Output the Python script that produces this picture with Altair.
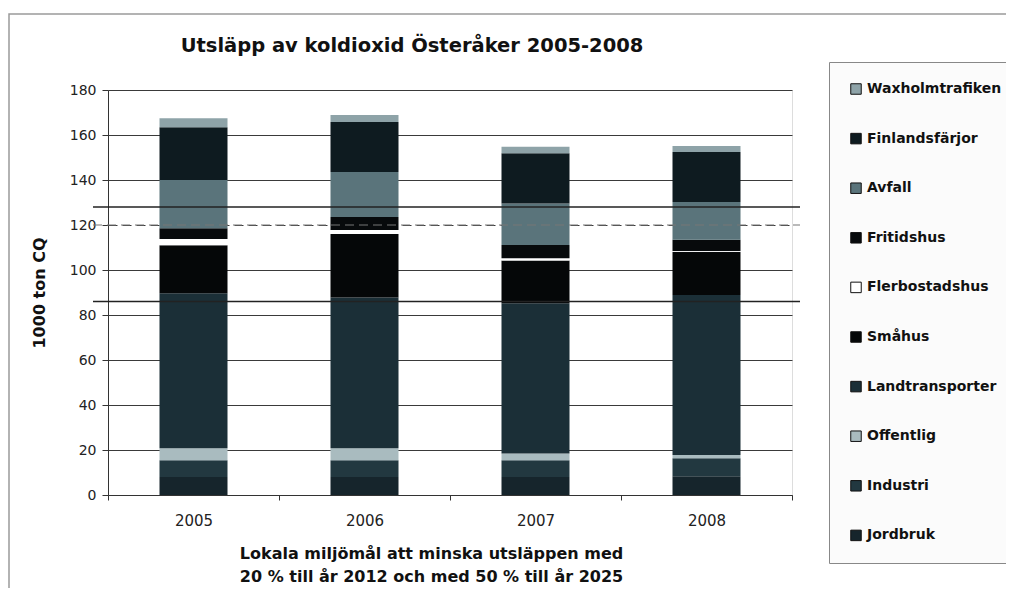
import altair as alt
import pandas as pd

years = ["2005", "2006", "2007", "2008"]

# legend order (top of legend = top of stack)
categories = ["Waxholmtrafiken", "Finlandsfärjor", "Avfall", "Fritidshus",
              "Flerbostadshus", "Småhus", "Landtransporter", "Offentlig",
              "Industri", "Jordbruk"]
colors = ["#8ea3a8", "#0e1b20", "#5a747b", "#070a0c",
          "#ffffff", "#050708", "#1b2f37", "#a9bbbf",
          "#223840", "#16252c"]

# values in 1000 ton CO2, per year 2005..2008
jordbruk        = [8.0, 8.0, 8.0, 8.3]
industri        = [7.5, 7.5, 7.5, 8.0]
offentlig       = [5.3, 5.3, 3.0, 1.5]
landtransporter = [68.9, 67.0, 66.7, 71.1]
smahus          = [21.3, 28.2, 19.0, 19.2]
flerbostadshus  = [2.8, 1.8, 1.0, 0.3]
fritidshus      = [4.8, 5.8, 5.9, 5.0]
avfall          = [21.4, 20.0, 18.5, 16.8]
finlandsfarjor  = [23.5, 22.2, 22.3, 22.2]
waxholmtrafiken = [4.0, 3.1, 2.9, 2.7]

series = {
    "Jordbruk": jordbruk,
    "Industri": industri,
    "Offentlig": offentlig,
    "Landtransporter": landtransporter,
    "Småhus": smahus,
    "Flerbostadshus": flerbostadshus,
    "Fritidshus": fritidshus,
    "Avfall": avfall,
    "Finlandsfärjor": finlandsfarjor,
    "Waxholmtrafiken": waxholmtrafiken,
}

target_solid = [128, 86]
target_dashed = [120]
y_ticks = [0, 20, 40, 60, 80, 100, 120, 140, 160, 180]

rows = []
for i, (cat, vals) in enumerate(series.items()):
    for y, v in zip(years, vals):
        rows.append({"year": y, "category": cat, "value": v, "idx": i})
df = pd.DataFrame(rows)

FONT = "DejaVu Sans"
W, H = 684, 405

x_enc = alt.X("year:N", scale=alt.Scale(paddingInner=0, paddingOuter=0),
              axis=alt.Axis(title=["Lokala miljömål att minska utsläppen med",
                                   "20 % till år 2012 och med 50 % till år 2025"],
                            titleFontSize=16, titleFontWeight="bold", titleFont=FONT,
                            titleColor="#111", titlePadding=17, titleLineHeight=23,
                            titleX=323, labelAngle=0, labelFontSize=15, labelFont=FONT,
                            labelColor="#222", labelPadding=13, tickBand="extent",
                            tickSize=5, tickColor="#333", domainColor="#333",
                            grid=False))

bars = alt.Chart(df).mark_bar(size=68).encode(
    x=x_enc,
    y=alt.Y("value:Q", stack="zero",
            scale=alt.Scale(domain=[0, 180], nice=False),
            axis=alt.Axis(values=y_ticks, title="1000 ton CQ", titleFontSize=16,
                          titleFontWeight="bold", titleFont=FONT, titleColor="#111",
                          titlePadding=22, labelFontSize=14, labelFont=FONT,
                          labelColor="#222", labelPadding=6, tickSize=6,
                          tickColor="#333", domainColor="#333",
                          grid=True, gridColor="#3a3a3a", gridWidth=1,
                          gridDash=alt.condition("datum.value == 120",
                                                 alt.value([9, 5]), alt.value([])))),
    color=alt.Color("category:N",
                    scale=alt.Scale(domain=categories, range=colors),
                    legend=alt.Legend(title=None, orient="none", legendX=721, legendY=-28,
                                      direction="vertical", symbolType="square",
                                      symbolSize=110, symbolStrokeColor="#111",
                                      symbolStrokeWidth=1, labelFontSize=14,
                                      labelFont=FONT, labelFontWeight="bold",
                                      labelColor="#111", labelOffset=4,
                                      rowPadding=33.6, padding=20,
                                      strokeColor="#888", fillColor="#fbfbfb",
                                      labelLimit=300)),
    order=alt.Order("idx:Q", sort="ascending"),
)

solid = alt.Chart(pd.DataFrame({"v": target_solid})).mark_rule(
    color="#222", strokeWidth=1.6).encode(
    y=alt.Y("v:Q"), x=alt.value(-15), x2=alt.value(W + 8))

dashed = alt.Chart(pd.DataFrame({"v": target_dashed})).mark_rule(
    color="#777", strokeWidth=1.2, strokeDash=[9, 5]).encode(
    y=alt.Y("v:Q"), x=alt.value(-15), x2=alt.value(W + 8))

frame = alt.Chart(pd.DataFrame({"a": [0]})).mark_rect(
    fill=None, stroke="#9a9a9a", strokeWidth=1.5).encode(
    x=alt.value(-99), x2=alt.value(904), y=alt.value(-76), y2=alt.value(560))

chart = alt.layer(frame, bars, dashed, solid).properties(
    width=W, height=H,
    title=alt.TitleParams("Utsläpp av koldioxid Österåker 2005-2008",
                          fontSize=19.5, fontWeight="bold", font=FONT, color="#111",
                          anchor="middle", dx=-38, offset=0, dy=43),
    autosize=alt.AutoSizeParams(type="none"),
    padding={"left": 100, "top": 82, "right": 214, "bottom": 93},
).configure_view(stroke="#555", strokeWidth=1).configure(background="white")

chart.save("out.html", embed_options={"renderer": "svg", "actions": False})
